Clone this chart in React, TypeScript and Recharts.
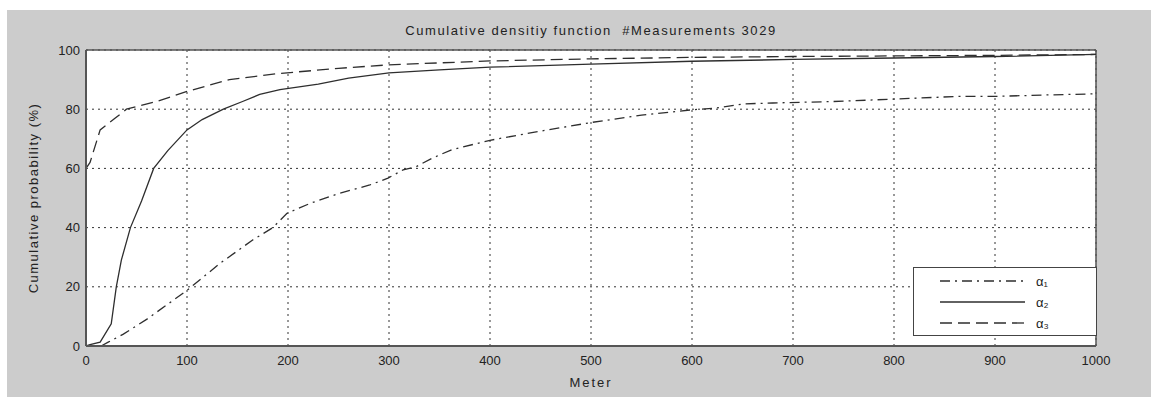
import React from 'react';
import { LineChart, Line, XAxis, YAxis, CartesianGrid, Legend, ReferenceLine } from 'recharts';

// values (distance in meters -> cumulative %)
const alpha1Meters = [15, 22, 37, 60, 100, 133, 165, 185, 199, 222, 251, 281, 299, 314, 327, 343, 362, 400, 440, 500, 550, 600, 624, 651, 680, 740, 799, 862, 898, 950, 1000];
const alpha1Prob = [0, 1.3, 4, 9, 18.8, 28, 35.8, 40, 44.8, 48.2, 51.6, 54.4, 56.7, 59.5, 60.6, 63.5, 66.3, 69.5, 72, 75.5, 78, 79.8, 80.4, 81.8, 82.1, 82.6, 83.4, 84.3, 84.3, 84.8, 85.2];

const alpha2Meters = [0, 4, 14, 25, 30, 35, 44, 55, 67, 81, 100, 115, 136, 155, 172, 192, 230, 260, 300, 350, 400, 500, 600, 700, 800, 900, 1000];
const alpha2Prob = [0, 0.5, 1.3, 7.5, 20, 29, 40, 49, 60, 66, 73, 76.5, 80, 82.6, 85, 86.6, 88.5, 90.5, 92.3, 93.3, 94.2, 95.2, 96.2, 96.8, 97.3, 97.8, 98.5];

const alpha3Meters = [0, 4, 14, 29, 40, 70, 100, 142, 189, 250, 300, 400, 500, 600, 700, 800, 900, 1000];
const alpha3Prob = [60, 62, 73, 77, 80, 82.6, 86, 90, 92, 93.8, 95, 96.3, 97, 97.5, 97.8, 98, 98.2, 98.5];

const xTicks = [0, 100, 200, 300, 400, 500, 600, 700, 800, 900, 1000];
const yTicks = [0, 20, 40, 60, 80, 100];

const seriesNames = ['\u03b1\u2081', '\u03b1\u2082', '\u03b1\u2083'];
const dashes = ['10 5 2 5', undefined, '12 6'];

const toPoints = (xs: number[], ys: number[]) => xs.map((x, i) => ({ x, y: ys[i] }));

const series = [
  toPoints(alpha1Meters, alpha1Prob),
  toPoints(alpha2Meters, alpha2Prob),
  toPoints(alpha3Meters, alpha3Prob),
];

const FONT = '"Liberation Sans", Arial, sans-serif';
const LINE = '#2e2e2e';
const AXIS = '#555';

const LegendBox = () => (
  <div style={{ width: 184, height: 69, background: '#fff', border: '1px solid #444', boxSizing: 'border-box' }}>
    <svg width={182} height={67}>
      {seriesNames.map((name, i) => (
        <g key={name}>
          <line x1={26} x2={111} y1={13 + i * 21} y2={13 + i * 21} stroke={LINE} strokeWidth={1.3} strokeDasharray={dashes[i]} />
          <text x={122} y={18 + i * 21} fontSize={13} fontFamily={FONT} fill="#222">{name}</text>
        </g>
      ))}
    </svg>
  </div>
);

export default function App() {
  return (
    <div style={{ position: 'absolute', left: 7, top: 10, width: 1144, height: 387, background: '#cccccc', fontFamily: FONT }}>
      <div style={{ position: 'absolute', left: 0, width: 1168, top: 13, textAlign: 'center', fontSize: 13, color: '#222', whiteSpace: 'pre', letterSpacing: 1.6 }}>
        {'Cumulative densitiy function  #Measurements 3029'}
      </div>
      <div style={{ position: 'absolute', left: 26, top: 188, width: 0, height: 0 }}>
        <div style={{ position: 'absolute', transform: 'translate(-50%, -50%) rotate(-90deg)', whiteSpace: 'nowrap', fontSize: 13, color: '#222', letterSpacing: 1.5 }}>
          Cumulative probability (%)
        </div>
      </div>
      <LineChart width={1144} height={387} margin={{ top: 40, right: 55, bottom: 21, left: 39 }}>
        <CartesianGrid fill="#fff" stroke="#333" strokeDasharray="2 4" />
        <XAxis
          dataKey="x"
          type="number"
          domain={[0, 1000]}
          ticks={xTicks}
          allowDataOverflow
          height={30}
          stroke={AXIS}
          strokeWidth={2}
          tickLine={false}
          tickMargin={4}
          tick={{ fontSize: 13, fill: '#222', fontFamily: FONT }}
          label={{ value: 'Meter', position: 'bottom', offset: 2, fontSize: 13, fill: '#222', fontFamily: FONT, letterSpacing: 2 }}
        />
        <YAxis
          type="number"
          domain={[0, 100]}
          ticks={yTicks}
          width={40}
          stroke={AXIS}
          strokeWidth={2}
          tickLine={false}
          tickMargin={0}
          tick={{ fontSize: 13, fill: '#222', fontFamily: FONT }}
        />
        <ReferenceLine y={100} stroke={AXIS} strokeWidth={1.5} />
        <ReferenceLine x={1000} stroke={AXIS} strokeWidth={1.5} />
        {series.map((pts, i) => (
          <Line
            key={seriesNames[i]}
            data={pts}
            dataKey="y"
            name={seriesNames[i]}
            type="linear"
            stroke={LINE}
            strokeWidth={1.3}
            strokeDasharray={dashes[i]}
            dot={false}
            isAnimationActive={false}
          />
        ))}
        <Legend
          layout="horizontal"
          verticalAlign="middle"
          align="center"
          wrapperStyle={{ position: 'absolute', left: 906, top: 257, width: 184, height: 69 }}
          content={() => <LegendBox />}
        />
      </LineChart>
    </div>
  );
}
